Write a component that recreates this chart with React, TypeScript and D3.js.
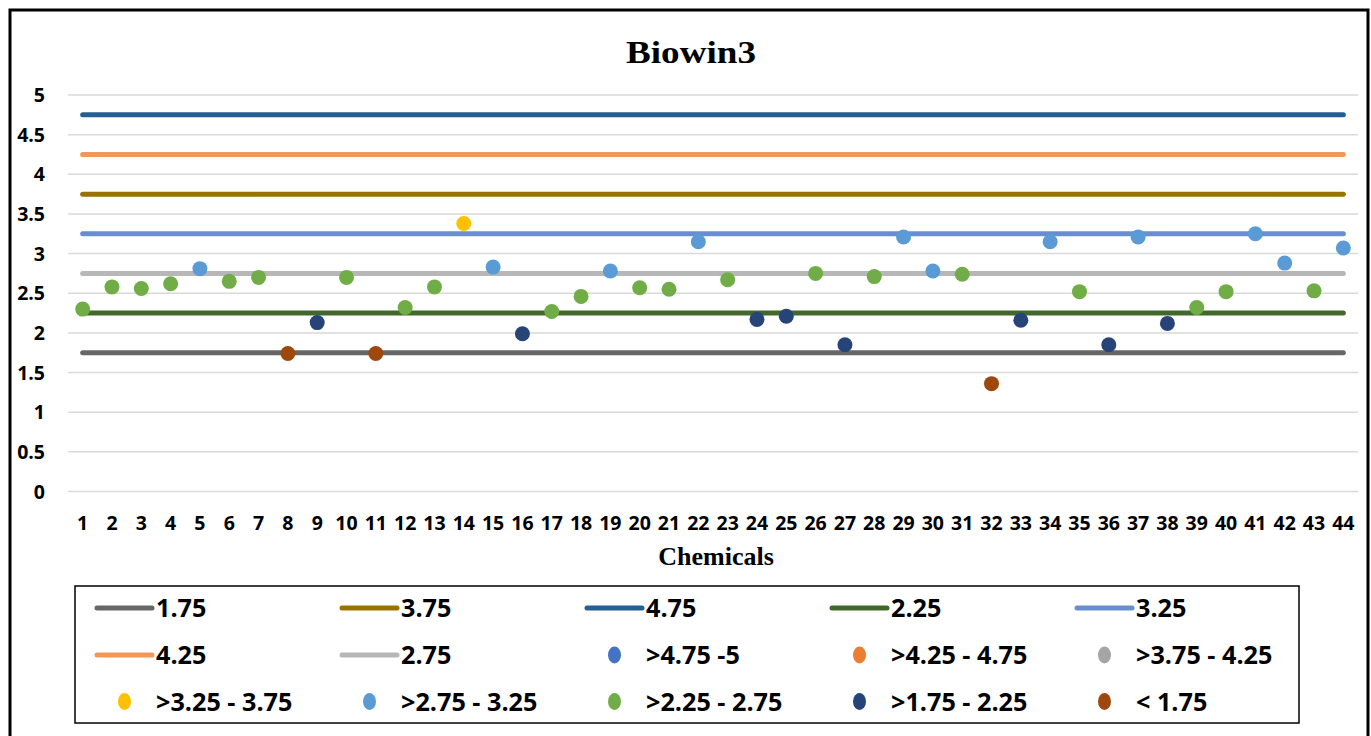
import React from "react";
import * as d3 from "d3";

// Chemical index numbers along the x axis
const chemicals = [
  "1", "2", "3", "4", "5", "6", "7", "8", "9", "10", "11", "12", "13", "14", "15",
  "16", "17", "18", "19", "20", "21", "22", "23", "24", "25", "26", "27", "28", "29", "30",
  "31", "32", "33", "34", "35", "36", "37", "38", "39", "40", "41", "42", "43", "44",
];

// Biowin3 score of each chemical
const biowin3 = [
  2.3, 2.58, 2.56, 2.62, 2.81, 2.65, 2.7, 1.74, 2.13, 2.7,
  1.74, 2.32, 2.58, 3.38, 2.83, 1.99, 2.27, 2.46, 2.78, 2.57,
  2.55, 3.15, 2.67, 2.17, 2.21, 2.75, 1.85, 2.71, 3.21, 2.78,
  2.74, 1.36, 2.16, 3.15, 2.52, 1.85, 3.21, 2.12, 2.32, 2.52,
  3.25, 2.88, 2.53, 3.07,
];

// Reference threshold lines (legend order)
const thresholdValues = [1.75, 3.75, 4.75, 2.25, 3.25, 4.25, 2.75];
const thresholdColors = ["#666666", "#997300", "#255E91", "#43682B", "#698ED0", "#F1975A", "#B7B7B7"];

// Score classes for the markers (legend order), with their lower bounds
const classLabels = [">4.75 -5", ">4.25 - 4.75", ">3.75 - 4.25", ">3.25 - 3.75", ">2.75 - 3.25", ">2.25 - 2.75", ">1.75 - 2.25", "< 1.75"];
const classLower = [4.75, 4.25, 3.75, 3.25, 2.75, 2.25, 1.75, -Infinity];
const classColors = ["#4472C4", "#ED7D31", "#A5A5A5", "#FFC000", "#5B9BD5", "#70AD47", "#264478", "#9E480E"];

const yTicks = [0, 0.5, 1, 1.5, 2, 2.5, 3, 3.5, 4, 4.5, 5];

const W = 1371;
const H = 736;
const plot = { left: 68, right: 1358, top: 95, bottom: 491.5 };

const sansBold = "'Open Sans', 'Liberation Sans', sans-serif";
const serif = "'Liberation Serif', 'Times New Roman', serif";

function classOf(v: number) {
  return classLower.findIndex((lo) => v > lo);
}

export default function App() {
  const x = d3.scaleBand<string>().domain(chemicals).range([plot.left, plot.right]).padding(0);
  const y = d3.scaleLinear().domain([0, 5]).range([plot.bottom, plot.top]);
  const cx = (c: string) => (x(c) ?? 0) + x.bandwidth() / 2;
  const xFirst = cx(chemicals[0]);
  const xLast = cx(chemicals[chemicals.length - 1]);

  type LegendItem = { label: string; color: string; kind: "line" | "dot" };
  const legendItems: LegendItem[] = [
    ...thresholdValues.map((v, i) => ({ label: String(v), color: thresholdColors[i], kind: "line" as const })),
    ...classLabels.map((l, i) => ({ label: l, color: classColors[i], kind: "dot" as const })),
  ];
  const legendCols = 5;
  const legendX0 = 97;
  const legendColW = 245;
  const legendRowY = [608, 655, 701.5];

  return (
    <svg
      width={W}
      height={H}
      style={{ position: "absolute", left: 0, top: 0, background: "#fff" }}
    >
      <rect x={0} y={0} width={W} height={H} fill="#fff" />
      {/* chart frame */}
      <rect x={10} y={10} width={1358} height={760} fill="none" stroke="#000" strokeWidth={3} />

      <text
        x={691}
        y={63}
        textAnchor="middle"
        fontFamily={serif}
        fontWeight="bold"
        fontSize={32}
        textLength={130}
        lengthAdjust="spacingAndGlyphs"
      >
        Biowin3
      </text>

      {/* horizontal gridlines and y tick labels */}
      {yTicks.map((t) => (
        <g key={t}>
          <line x1={plot.left} x2={plot.right} y1={y(t)} y2={y(t)} stroke="#D9D9D9" strokeWidth={1.5} />
          <text
            x={45}
            y={y(t)}
            dy="0.36em"
            textAnchor="end"
            fontFamily={sansBold}
            fontWeight="bold"
            fontSize={19.5}
            fill="#000"
          >
            {String(t)}
          </text>
        </g>
      ))}

      {/* x tick labels */}
      {chemicals.map((c) => (
        <text
          key={c}
          x={cx(c)}
          y={530}
          textAnchor="middle"
          fontFamily={sansBold}
          fontWeight="bold"
          fontSize={19.5}
          fill="#000"
        >
          {c}
        </text>
      ))}

      <text
        x={716}
        y={565}
        textAnchor="middle"
        fontFamily={serif}
        fontWeight="bold"
        fontSize={26}
        fill="#000"
      >
        Chemicals
      </text>

      {/* threshold lines */}
      {thresholdValues.map((v, i) => (
        <line
          key={v}
          x1={xFirst}
          x2={xLast}
          y1={y(v)}
          y2={y(v)}
          stroke={thresholdColors[i]}
          strokeWidth={5}
          strokeLinecap="round"
        />
      ))}

      {/* chemical scores */}
      {biowin3.map((v, i) => (
        <circle key={i} cx={cx(chemicals[i])} cy={y(v)} r={7.5} fill={classColors[classOf(v)]} />
      ))}

      {/* legend */}
      <rect x={75} y={586} width={1224} height={137} fill="none" stroke="#000" strokeWidth={1.5} />
      {legendItems.map((item, i) => {
        const col = i % legendCols;
        const row = Math.floor(i / legendCols);
        const lx = legendX0 + col * legendColW;
        const ly = legendRowY[row];
        return (
          <g key={item.label + i}>
            {item.kind === "line" ? (
              <line x1={lx} x2={lx + 55} y1={ly} y2={ly} stroke={item.color} strokeWidth={5} strokeLinecap="round" />
            ) : (
              <ellipse cx={lx + 27.5} cy={ly} rx={6.5} ry={8.5} fill={item.color} />
            )}
            <text
              x={lx + 59}
              y={ly}
              dy="0.36em"
              fontFamily={sansBold}
              fontWeight="bold"
              fontSize={25.2}
              fill="#000"
            >
              {item.label}
            </text>
          </g>
        );
      })}
    </svg>
  );
}
